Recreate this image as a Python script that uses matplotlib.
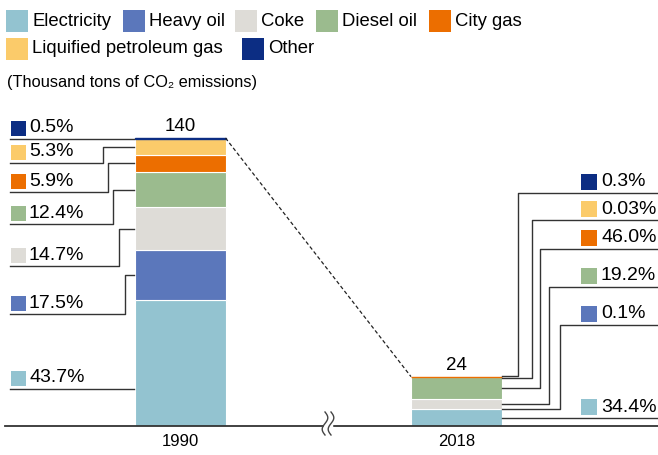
import numpy as np
import matplotlib
matplotlib.use("Agg")
import matplotlib.pyplot as plt
from matplotlib.patches import Rectangle

plt.rcParams['font.family'] = ['Liberation Sans', 'DejaVu Sans']

# data
categories = ["Electricity", "Heavy oil", "Coke", "Diesel oil", "City gas",
              "Liquified petroleum gas", "Other"]
colors = ["#93C3D0", "#5B77BB", "#DEDCD7", "#9BBB8E", "#EC6E00", "#FBCB6A", "#0C2D83"]
years = ["1990", "2018"]
totals = [140, 24]
share_1990 = [43.7, 17.5, 14.7, 12.4, 5.9, 5.3, 0.5]
# 2018 bar segments as drawn (bottom to top, same order as categories)
share_2018 = [34.4, 0.1, 19.2, 46.0, 0.3, 0.03, 0.0]
# labels on the right of 2018, top to bottom (category index, text)
right_cat = [6, 5, 4, 3, 1, 0]
right_txt = ["0.3%", "0.03%", "46.0%", "19.2%", "0.1%", "34.4%"]
# which stacked segment each right label points to
right_seg = [6, 5, 3, 2, 1, 0]

W, H = 658, 455
fig = plt.figure(figsize=(W / 100, H / 100), dpi=100)
ax = fig.add_axes([0, 0, 1, 1])
BASE = 426.0
K = 288.0 / 140
ax.set_xlim(0, W)
ax.set_ylim(-(H - BASE) / K, BASE / K)
ax.axis('off')

# overlay in pixel units (top-left origin) for layout items
lay = fig.add_axes([0, 0, 1, 1], facecolor='none')
lay.set_xlim(0, W)
lay.set_ylim(H, 0)
lay.axis('off')

def to_px(v):
    return H - ax.transData.transform((0, v))[1]

xpos = [180, 456.5]
bw = 91
shares = [share_1990, share_2018]
mids = []
for xi, tot, sh in zip(xpos, totals, shares):
    vals = np.array(sh) / np.sum(sh) * tot
    bottom = 0
    m = []
    for v, c in zip(vals, colors):
        s = v / tot * 100
        if s >= 1:
            ec, lw = 'white', 0.8
        elif s >= 0.2:
            ec, lw = c, 1.0
        else:
            ec, lw = c, 0
        ax.bar(xi, v, bottom=bottom, width=bw, color=c, edgecolor=ec, linewidth=lw)
        m.append(bottom + v / 2)
        bottom += v
    mids.append(m)

# totals and year labels
for xi, tot, yr in zip(xpos, totals, years):
    ax.text(xi, tot + 1.5, str(tot), ha='center', va='bottom', fontsize=13.5)
    lay.text(xi, 441, yr, ha='center', va='center', fontsize=12)

# dashed connector
ax.plot([xpos[0] + bw / 2, xpos[1] - bw / 2], [totals[0], totals[1]],
        color='#222222', lw=0.9, ls=(0, (3, 2)))

# baseline
ax.plot([5, W], [0, 0], color='#333333', lw=1.3)

# axis break
t = np.linspace(0, 1, 40)
lay.plot([325, 331], [426, 426], color='white', lw=2.5)
for dx in (-3, 3):
    lay.plot(328 + dx + 2.8 * np.sin(t * 2 * np.pi), 412 + 23 * t, color='#444444', lw=1)

# legend
row1 = [(6, 21), (123, 21), (235, 21), (316, 21), (429, 21), (6, 48.5), (242, 48.5)]
for i, (lx, ly) in enumerate(row1):
    lay.add_patch(Rectangle((lx, ly - 11), 22, 22, color=colors[i], lw=0))
    lay.text(lx + 26, ly, categories[i], va='center', ha='left', fontsize=13.3)
lay.text(7, 82, "(Thousand tons of CO\u2082 emissions)", va='center', ha='left', fontsize=11.8)

lc = '#333333'
# left labels 1990 (top to bottom)
left_under = [139, 163, 192, 224, 266, 314, 389]
left_elbow = [None, 103, 108, 113, 119, 125, None]
bar_l = 134
for j, ci in enumerate(range(6, -1, -1)):
    uy = left_under[j]
    cy = uy - 11
    lay.add_patch(Rectangle((11, cy - 7.5), 15, 15, color=colors[ci], lw=0))
    lay.text(29, cy, "%.1f%%" % share_1990[ci], va='center', ha='left', fontsize=14)
    if left_elbow[j] is None:
        lay.plot([10, bar_l], [uy, uy], color=lc, lw=1)
    else:
        ty = to_px(mids[0][ci])
        ex = left_elbow[j]
        lay.plot([10, ex, ex, bar_l], [uy, uy, ty, ty], color=lc, lw=1)

# right labels 2018
right_under = [193, 220, 249, 287, 325, 418]
right_elbow = [518, 532, 540, 549, 560, None]
right_off = [-1, 1, 0, 0, 0, 0]
bar_r = 502
for j in range(6):
    uy = right_under[j]
    cy = uy - 11
    ci = right_cat[j]
    lay.add_patch(Rectangle((581, cy - 8), 16, 16, color=colors[ci], lw=0))
    lay.text(601, cy, right_txt[j], va='center', ha='left', fontsize=14)
    if right_elbow[j] is None:
        lay.plot([bar_r, W], [uy, uy], color=lc, lw=1)
    else:
        seg = right_seg[j]
        if seg >= 5:
            ty = to_px(totals[1]) + right_off[j]
        else:
            ty = to_px(mids[1][seg])
        ex = right_elbow[j]
        lay.plot([W, ex, ex, bar_r], [uy, uy, ty, ty], color=lc, lw=1)

fig.savefig("out.png", dpi=100)
